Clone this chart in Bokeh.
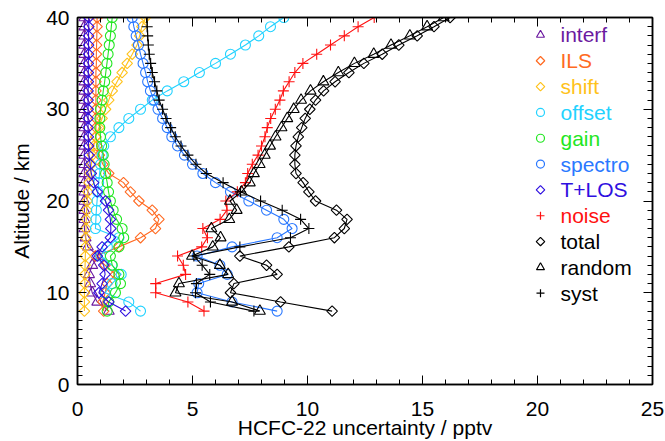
import math
from bokeh.plotting import figure
from bokeh.models import Range1d, FixedTicker, LinearAxis, ColumnDataSource, CustomJSTickFormatter
from bokeh.core.properties import value
from bokeh.embed import file_html
from bokeh.resources import INLINE

altitude = [8, 9, 10, 11, 12, 13, 14, 15, 16, 17, 18, 19, 20, 21, 22, 23, 24,
            25, 26, 27, 28, 29, 30, 31, 32, 33, 34, 35, 36, 37, 38, 39, 40]

interf = [1.36, 0.86, 0.64, 0.55, 0.5, 0.64, 0.9, 0.45, 0.35, 0.3, 0.3, 0.3, 0.3, 0.3, 0.3, 0.3, 0.3,
          0.3, 0.3, 0.3, 0.3, 0.3, 0.3, 0.3, 0.3, 0.3, 0.3, 0.3, 0.3, 0.3, 0.3, 0.3, 0.3]
ils = [1.14, 1.1, 1.2, 1.29, 1.65, 1.2, 0.78, 1.8, 2.74, 3.39, 3.54, 3.25, 2.67, 2.3, 2.0, 1.36, 1.1,
       0.95, 0.85, 0.8, 0.8, 0.8, 0.8, 0.8, 0.8, 0.8, 0.8, 0.82, 0.82, 0.83, 0.84, 0.85, 0.85]
shift = [0.3, 0.3, 0.3, 0.32, 0.32, 0.33, 0.34, 0.35, 0.36, 0.37, 0.38, 0.4, 0.42, 0.45, 0.5, 0.55, 0.6,
         0.65, 0.71, 0.78, 0.93, 1.07, 1.22, 1.36, 1.51, 1.72, 1.94, 2.16, 2.38, 2.59, 2.7, 2.8, 2.96]
offset = [2.74, 2.23, 1.2, 1.5, 1.9, 1.5, 1.0, 1.3, 1.8, 0.78, 0.8, 0.82, 0.85, 0.88, 0.92, 0.96, 1.0,
          1.07, 1.14, 1.43, 1.8, 2.23, 2.74, 3.25, 3.9, 4.62, 5.3, 6.0, 6.65, 7.3, 7.88, 8.39, 8.97]
gain = [1.29, 1.36, 1.65, 1.87, 1.8, 1.51, 1.43, 1.8, 2.01, 1.94, 1.7, 1.55, 1.43, 1.35, 1.29, 1.22, 1.16,
        1.12, 1.05, 1.0, 0.97, 0.97, 1.0, 1.07, 1.12, 1.18, 1.23, 1.28, 1.33, 1.38, 1.43, 1.47, 1.51]
spectro = [8.68, 6.72, 5.2, 5.27, 6.51, 6.19, 5.2, 6.72, 8.68, 9.33, 8.97, 8.22, 7.45, 6.65, 6.0, 5.45, 5.0,
           4.65, 4.35, 4.1, 3.9, 3.7, 3.5, 3.32, 3.17, 3.05, 2.96, 2.85, 2.74, 2.65, 2.55, 2.45, 2.38]
tlos = [2.09, 1.36, 0.93, 1.07, 1.2, 1.14, 0.86, 1.07, 1.43, 1.45, 1.43, 1.35, 1.22, 0.86, 0.7, 0.6, 0.55,
        0.5, 0.48, 0.47, 0.46, 0.46, 0.46, 0.46, 0.46, 0.47, 0.47, 0.47, 0.48, 0.48, 0.48, 0.49, 0.49]
noise = [5.5, 4.8, 3.4, 3.4, 4.7, 4.6, 4.35, 5.4, 5.65, 5.45, 6.2, 6.5, 6.45, 6.95, 7.3, 7.4, 7.6,
         7.85, 8.0, 8.15, 8.25, 8.4, 8.6, 8.8, 8.95, 9.2, 9.45, 9.8, 10.4, 11.0, 11.6, 12.2, 12.9]
total = [11.07, 8.83, 6.65, 6.8, 8.68, 8.22, 7.06, 9.19, 11.17, 11.6, 11.72, 11.26, 10.35, 10.06, 9.81, 9.5, 9.45,
         9.45, 9.5, 9.6, 9.75, 9.9, 10.1, 10.35, 10.7, 11.2, 11.8, 12.45, 13.25, 13.97, 14.77, 15.5, 16.2]
random_err = [7.93, 6.72, 4.26, 4.41, 6.55, 6.19, 4.98, 5.88, 6.22, 5.82, 6.6, 6.92, 6.63, 7.13, 7.49, 7.67, 7.92,
              8.14, 8.37, 8.61, 8.87, 9.12, 9.4, 9.72, 10.13, 10.69, 11.34, 12.04, 12.88, 13.63, 14.45, 15.2, 15.92]
syst = [7.67, 5.78, 5.13, 5.17, 5.75, 5.42, 5.06, 7.06, 9.26, 10.06, 9.7, 8.9, 7.96, 7.09, 6.33, 5.6, 5.15,
        4.8, 4.5, 4.25, 4.05, 3.85, 3.7, 3.55, 3.45, 3.35, 3.25, 3.18, 3.12, 3.08, 3.05, 3.03, 3.02]

labels = ["interf", "ILS", "shift", "offset", "gain", "spectro", "T+LOS", "noise", "total", "random", "syst"]
series = [interf, ils, shift, offset, gain, spectro, tlos, noise, total, random_err, syst]
colors = ["#6c1aa0", "#ff6a22", "#ffc21a", "#22d2ff", "#22e622", "#2a78ff", "#2f10e0", "#ff1010",
          "#000000", "#000000", "#000000"]
markers = ["triangle", "diamond", "diamond", "circle", "circle", "circle", "diamond", "cross",
           "diamond", "triangle", "cross"]

x_ticks = [0, 5, 10, 15, 20, 25]
y_ticks = [0, 10, 20, 30, 40]
x_title = "HCFC-22 uncertainty / pptv"
y_title = "Altitude / km"

FONT = "Liberation Sans"

p = figure(width=665, height=441, output_backend="svg", toolbar_location=None,
           x_range=Range1d(0, 25), y_range=Range1d(0, 40),
           min_border_left=77, min_border_right=13, min_border_top=17, min_border_bottom=56)
p.background_fill_color = "white"
p.border_fill_color = "white"
p.outline_line_color = "black"
p.outline_line_width = 1.5
p.grid.visible = False

xt = FixedTicker(ticks=x_ticks, minor_ticks=list(range(0, 26)))
yt = FixedTicker(ticks=y_ticks, minor_ticks=list(range(0, 41)))


def style_axis(ax):
    ax.axis_line_color = "black"
    ax.axis_line_width = 1.5
    ax.major_tick_in = 9
    ax.major_tick_out = 0
    ax.minor_tick_in = 5
    ax.minor_tick_out = 0
    ax.major_tick_line_color = "black"
    ax.minor_tick_line_color = "black"
    ax.major_label_text_font = FONT
    ax.major_label_text_font_size = "21px"
    ax.major_label_text_color = "black"
    ax.axis_label_text_font = FONT
    ax.axis_label_text_font_size = "21px"
    ax.axis_label_text_font_style = "normal"
    ax.axis_label_text_color = "black"


p.xaxis.ticker = xt
p.yaxis.ticker = yt
style_axis(p.xaxis[0])
style_axis(p.yaxis[0])
p.xaxis.axis_label = x_title
p.yaxis.axis_label = y_title
p.xaxis.major_label_standoff = 17
p.xaxis.axis_label_standoff = -3
p.yaxis.major_label_standoff = 8
p.yaxis.axis_label_standoff = 10

top_ax = LinearAxis(ticker=xt, formatter=CustomJSTickFormatter(code="return ''"))
style_axis(top_ax)
top_ax.major_label_standoff = 0
p.add_layout(top_ax, "above")
right_ax = LinearAxis(ticker=yt, formatter=CustomJSTickFormatter(code="return ''"))
style_axis(right_ax)
right_ax.major_label_standoff = 0
p.add_layout(right_ax, "right")

for lab, vals, col, mk in zip(labels, series, colors, markers):
    src = ColumnDataSource(dict(x=vals, y=altitude))
    p.line("x", "y", source=src, line_color=col, line_width=1.1)
    if mk == "diamond":
        p.scatter("x", "y", source=src, marker="square", angle=math.pi / 4, size=7.5,
                  line_color=col, fill_color=None, line_width=1.1)
    else:
        size = 11 if mk in ("triangle", "cross") else 10
        p.scatter("x", "y", source=src, marker=mk, size=size, line_color=col,
                  fill_color=None, line_width=1.1)

# legend drawn as marker + coloured text
leg_x_marker = 20.13
leg_x_text = 21.0
leg_y0 = 38.1
leg_dy = 2.815
for k, (lab, col, mk) in enumerate(zip(labels, colors, markers)):
    yy = leg_y0 - k * leg_dy
    if mk == "diamond":
        p.scatter([leg_x_marker], [yy], marker="square", angle=math.pi / 4, size=6,
                  line_color=col, fill_color=None, line_width=1.2)
    else:
        p.scatter([leg_x_marker], [yy], marker=mk, size=8,
                  line_color=col, fill_color=None, line_width=1.2)
    p.text([leg_x_text], [yy], text=[lab], text_color=col, text_font=value(FONT),
           text_font_size="21px", text_baseline="middle", text_align="left")

open("out.html", "w").write(file_html(p, INLINE))
